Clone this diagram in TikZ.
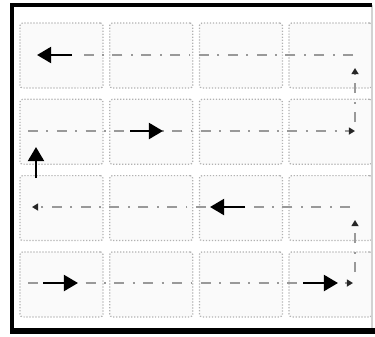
\documentclass[tikz,border=0pt]{standalone}
\usetikzlibrary{arrows.meta}
\begin{document}
\begin{tikzpicture}[x=0.02cm,y=-0.02cm,
  cell/.style={draw=gray!60,densely dotted,line width=0.7pt,rounded corners=1.5pt,fill=gray!4,minimum width=1.66cm,minimum height=1.3cm,inner sep=0pt},
  route/.style={draw=gray!80,line width=1.4pt,dash pattern=on 5.7pt off 4.8pt on 1.1pt off 4.8pt},
  tip/.style={-{Triangle[length=3.5pt,width=4pt,color=gray!30!black]}},
  move/.style={line width=1.5pt,-{Triangle[length=8pt,width=9pt]}}]
\useasboundingbox (0,0) rectangle (375,336);

% cells
\foreach \i in {0,...,3}
  \foreach \j in {0,...,3}
    \node[cell] (c\j\i) at ({61.5+89.7*\i},{55.5+76.3*\j}) {};

% frame
\draw[gray!35,line width=0.6pt] (372,5) -- (372,331);
\draw[line width=2.4pt] (372,5) -- (12,5) -- (12,333);
\draw[line width=3.4pt] (10.4,331) -- (375,331);

% route points
\coordinate (r4s) at (28,283);  \coordinate (r4e) at (353,283);
\coordinate (u2s) at (355,272); \coordinate (u2e) at (355,220);
\coordinate (r3s) at (350,207); \coordinate (r3e) at (32,207);
\coordinate (r2s) at (28,131);  \coordinate (r2e) at (355,131);
\coordinate (u1s) at (355,122); \coordinate (u1e) at (355,68);
\coordinate (r1s) at (353,55);  \coordinate (r1e) at (80,55);

\draw[route,tip] (r4s) -- (r4e);
\draw[route,tip] (u2s) -- (u2e);
\draw[route,tip] (r3s) -- (r3e);
\draw[route,tip] (r2s) -- (r2e);
\draw[route,tip] (u1s) -- (u1e);
\draw[route] (r1s) -- (r1e);

% moves
\coordinate (m1a) at (43,283);  \coordinate (m1b) at (78,283);
\coordinate (m2a) at (303,283); \coordinate (m2b) at (338,283);
\coordinate (m3a) at (245,207); \coordinate (m3b) at (210,207);
\coordinate (m4a) at (36,178);  \coordinate (m4b) at (36,147);
\coordinate (m5a) at (130,131); \coordinate (m5b) at (163,131);
\coordinate (m6a) at (72,55);   \coordinate (m6b) at (37,55);

\draw[move] (m1a) -- (m1b);
\draw[move] (m2a) -- (m2b);
\draw[move] (m3a) -- (m3b);
\draw[move] (m4a) -- (m4b);
\draw[move] (m5a) -- (m5b);
\draw[move] (m6a) -- (m6b);
\end{tikzpicture}
\end{document}
